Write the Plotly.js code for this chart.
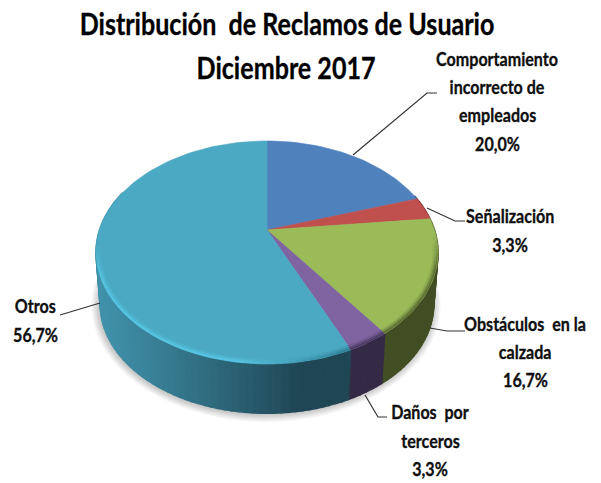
<!DOCTYPE html>
<html>
<head>
<meta charset="utf-8">
<script src="https://cdn.plot.ly/plotly-3.0.1.min.js"></script>
<style>html,body{margin:0;padding:0;background:#fff}</style>
</head>
<body>
<div id="chart" style="width:601px;height:483px"></div>
<script>
const categories = ["Comportamiento incorrecto de empleados","Señalización","Obstáculos en la calzada","Daños por terceros","Otros"];
const values = [20.0, 3.3, 16.7, 3.3, 56.7];
const titleLines = ["Distribución  de Reclamos de Usuario","Diciembre 2017"];
const labelLines = [
  ["Comportamiento","incorrecto de","empleados","20,0%"],
  ["Señalización","3,3%"],
  ["Obstáculos  en la","calzada","16,7%"],
  ["Daños  por","terceros","3,3%"],
  ["Otros","56,7%"]
];
const faceColors = ["#4F81BD","#C0504D","#9BBB59","#8064A2","#4BA9C3"];

// Projection of the tilted disc onto the page
const CX = 267, CY = 230, A = 167.5, B = 107, K = 0.202;
function rimTop(t){
  const u = Math.sin(t), v = -Math.cos(t), w = 1 - K*v;
  return [CX + A*u/w, CY + B*v/w];
}
function rimLow(t){
  const p = rimTop(t);
  return [CX + (p[0]-CX)*0.975, 252 + (p[1]-252)*0.975 + 52];
}
function inset(p,o){
  const dx=CX-p[0], dy=252-p[1], r=Math.hypot(dx,dy);
  return [p[0]+dx/r*o, p[1]+dy/r*o];
}
function hex(a){ return [1,3,5].map(i=>parseInt(a.substr(i,2),16)); }
function mixRgb(pa,pb,f){ return pa.map((c,i)=>c+(pb[i]-c)*f); }
function css(p){ return "rgb("+p.map(Math.round).join(",")+")"; }
function mix(a,b,f){ return css(mixRgb(hex(a),hex(b),f)); }
const TAU = Math.PI*2;
const total = values.reduce((a,b)=>a+b,0);
const sectors = [];
let acc = 0;
values.forEach((val,i)=>{ sectors.push([acc/total*TAU,(acc+val)/total*TAU,i]); acc += val; });
const sectorAt = t => sectors.find(s=>t>=s[0] && t<=s[1])[2];

const traces = [];
function poly(pts,color,name,w){
  traces.push({type:"scatter",mode:"lines",x:pts.map(p=>p[0]),y:pts.map(p=>p[1]),fill:"toself",
    fillcolor:color,line:{color:color,width:w===undefined?0.6:w},name:name||"",hoverinfo:"skip"});
}
// soft shadow
for(let e=8;e>=1;e--){
  const pts=[];
  for(let d=0;d<=360;d+=4){
    const p=rimLow(d*Math.PI/180);
    const dx=p[0]-CX, dy=p[1]-304, r=Math.hypot(dx,dy);
    pts.push([p[0]+dx/r*e-1, p[1]+dy/r*e+1]);
  }
  traces.push({type:"scatter",mode:"lines",x:pts.map(p=>p[0]),y:pts.map(p=>p[1]),fill:"toself",
    fillcolor:"rgba(0,0,0,0.028)",line:{width:0},hoverinfo:"skip"});
}
// side wall strips
const sideDark = ["#2A4869","#6B2C2A","#424E24","#352A45","#1F4654"];
const sideLight = ["#4A7AB0","#A04442","#424E24","#352A45","#4091AA"];
const STEP = 2*Math.PI/180;
for(let t=70*Math.PI/180; t<290*Math.PI/180; t+=STEP){
  const mid=t+STEP/2, i=sectorAt(mid);
  const a=rimTop(t), b=rimTop(t+STEP), c=rimLow(t+STEP), d=rimLow(t);
  const px=rimTop(mid)[0];
  const f=Math.max(0,Math.min(1,(px-100)/(300-100)));
  const col=mix(sideLight[i],sideDark[i],Math.pow(f,1.1));
  poly([a,b,c,d,a],col,"side",1.5);
}
// top face sectors
sectors.forEach(s=>{
  const pts=[[CX,CY]];
  const n=Math.max(6,Math.ceil((s[1]-s[0])/(Math.PI/90)));
  for(let j=0;j<=n;j++) pts.push(rimTop(s[0]+(s[1]-s[0])*j/n));
  pts.push([CX,CY]);
  poly(pts,faceColors[s[2]],categories[s[2]]);
});
// bevel along the front rim, soft outer band and a sharper inner one
const T0=92*Math.PI/180, T1=262*Math.PI/180;
[[5,0.18,3],[3,0.45,2],[1.5,0.7,1]].forEach(layer=>{
  for(let t=T0; t<T1; t+=STEP){
    const mid=t+STEP/2, i=sectorAt(mid);
    const fade=Math.min(1,(mid-T0)/(18*Math.PI/180),(T1-mid)/(16*Math.PI/180));
    const a=inset(rimTop(t),layer[2]), b=inset(rimTop(t+STEP),layer[2]);
    const px=rimTop(mid)[0];
    let col;
    if(i===4){
      const f=Math.max(0,Math.min(1,(px-240)/110));
      const tone=mixRgb(hex("#58C6E4"),hex("#2F7C92"),f);
      col=css(mixRgb(hex(faceColors[4]),tone,Math.min(1,layer[1]*1.4)*fade));
    } else {
      col=mix(faceColors[i],sideDark[i],layer[1]*fade);
    }
    traces.push({type:"scatter",mode:"lines",x:[a[0],b[0]],y:[a[1],b[1]],
      line:{color:col,width:layer[0]},hoverinfo:"skip"});
  }
});

const labelFont = {family:"Lato, 'Liberation Sans', sans-serif",size:19,color:"#111111"};
const titleFont = {family:"Lato, 'Liberation Sans', sans-serif",size:30,color:"#000"};
const annotations = [];
function addText(txt,x,y,font){
  annotations.push({text:"<b>"+txt+"</b>",x:x,y:y,xref:"x",yref:"y",showarrow:false,xanchor:"center",yanchor:"middle",font:font,align:"center"});
}
addText(titleLines[0],287,23,titleFont);
addText(titleLines[1],286,67,titleFont);
const labelX = [497,510,525,430,35];
const labelY = [[58,86,114,143],[215,244],[323,351,379],[411,440,468],[305,334]];
labelLines.forEach((lines,i)=>lines.forEach((l,j)=>addText(l,labelX[i],labelY[i][j],labelFont)));

const leaders = [
  "M353,155 L427,93 L437,93",
  "M427,208 L455,221 L465,221",
  "M430,328 L447,331 L465,331",
  "M365,395 L378,417 L387,417",
  "M100,303 L60,315"
];
const shapes = leaders.map(p=>({type:"path",path:p,xref:"x",yref:"y",line:{color:"#333333",width:1.2},layer:"above"}));

Plotly.newPlot("chart",traces,{
  width:601,height:483,margin:{l:0,r:0,t:0,b:0},showlegend:false,
  paper_bgcolor:"#fff",plot_bgcolor:"#fff",
  xaxis:{range:[0,601],visible:false,fixedrange:true},
  yaxis:{range:[483,0],visible:false,fixedrange:true},
  annotations:annotations,shapes:shapes
},{staticPlot:true,displayModeBar:false}).then(gd=>{
  // the reference lettering is condensed: squeeze each text about its own centre
  const texts=[...gd.querySelectorAll(".annotation-text")];
  const byText=s=>texts.find(t=>t.textContent===s);
  const titleScale=415/byText(titleLines[0]).getBBox().width;
  const labelScale=122/byText(labelLines[0][0]).getBBox().width;
  texts.forEach((t,i)=>{
    const bb=t.getBBox(), c=bb.x+bb.width/2, s=i<2?titleScale:labelScale;
    t.setAttribute("transform","translate("+c+",0) scale("+s+",1) translate("+(-c)+",0)");
    t.style.stroke="#000";
    t.style.strokeWidth="0.3px";
  });
});
</script>
</body>
</html>
